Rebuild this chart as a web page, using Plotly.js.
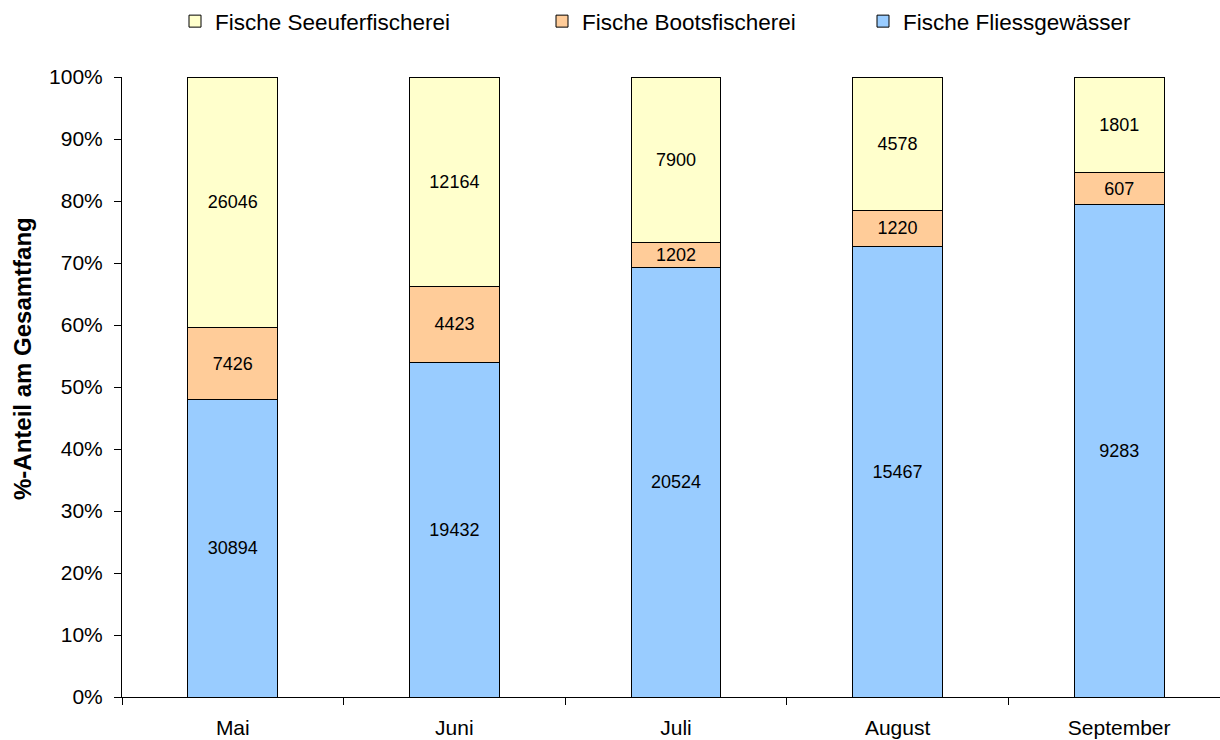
<!DOCTYPE html>
<html>
<head>
<meta charset="utf-8">
<script src="https://cdn.plot.ly/plotly-3.0.1.min.js"></script>
<style>
  html, body { margin: 0; padding: 0; background: #fff; overflow: hidden; }
  #chart { width: 1220px; height: 740px; }
</style>
</head>
<body>
<div id="chart"></div>
<script>
// months on the x axis
var months = ["Mai", "Juni", "Juli", "August", "September"];

// catch per fishing type (raw counts, shown as labels)
var fliess = [30894, 19432, 20524, 15467, 9283];
var boots = [7426, 4423, 1202, 1220, 607];
var seeufer = [26046, 12164, 7900, 4578, 1801];

var yTicks = [0, 10, 20, 30, 40, 50, 60, 70, 80, 90, 100];

var FONT = "Liberation Sans, Arial, sans-serif";

function makeBar(name, values, color, legendId) {
  return {
    type: "bar",
    name: name,
    legend: legendId,
    x: months,
    y: values,
    text: values.map(String),
    texttemplate: "%{text}",
    textposition: "inside",
    insidetextanchor: "middle",
    textangle: 0,
    constraintext: "none",
    textfont: { color: "#000", size: 18, family: FONT },
    marker: { color: color, line: { color: "#000", width: 1 } },
    hoverinfo: "skip",
  };
}

var data = [
  makeBar("Fische Fliessgewässer", fliess, "#99CCFF", "legend3"),
  makeBar("Fische Bootsfischerei", boots, "#FFCC99", "legend2"),
  makeBar("Fische Seeuferfischerei", seeufer, "#FFFFCC", "legend"),
];

// one legend box per entry so they sit where the original has them
function legendAt(xpx) {
  return {
    orientation: "h",
    xref: "container",
    yref: "container",
    x: xpx / 1220,
    y: 1.0,
    xanchor: "left",
    yanchor: "top",
    font: { size: 22.5, family: FONT },
    itemwidth: 30,
    bgcolor: "rgba(0,0,0,0)",
  };
}

var layout = {
  width: 1220,
  height: 740,
  barmode: "stack",
  barnorm: "percent",
  bargap: 0.594,
  paper_bgcolor: "#fff",
  plot_bgcolor: "#fff",
  font: { family: FONT, color: "#000", size: 21 },
  margin: { l: 122, r: 0, t: 77, b: 43 },
  showlegend: true,
  legend: legendAt(175),
  legend2: legendAt(542),
  legend3: legendAt(863),
  xaxis: {
    type: "category",
    range: [-0.5, 4.455],
    showline: true,
    linecolor: "#000",
    linewidth: 1,
    ticks: "outside",
    tickson: "boundaries",
    ticklen: 7,
    tickcolor: "#000",
    showgrid: false,
    zeroline: false,
    tickfont: { size: 21 },
    ticklabelstandoff: 12,
    fixedrange: true,
  },
  yaxis: {
    range: [0, 100],
    tickvals: yTicks,
    ticktext: yTicks.map((v) => v + "%"),
    showline: true,
    linecolor: "#000",
    linewidth: 1,
    ticks: "outside",
    ticklen: 7,
    tickcolor: "#000",
    showgrid: false,
    zeroline: false,
    tickfont: { size: 21 },
    ticklabelstandoff: 7,
    fixedrange: true,
  },
  annotations: [
    {
      text: "<b>%-Anteil am Gesamtfang</b>",
      textangle: -90,
      xref: "paper",
      yref: "paper",
      x: (22 - 122) / 1098,
      y: (697 - 359) / 620,
      xanchor: "center",
      yanchor: "middle",
      showarrow: false,
      font: { size: 24, family: FONT },
    },
  ],
};

Plotly.newPlot("chart", data, layout, { displayModeBar: false, staticPlot: true });
</script>
</body>
</html>
